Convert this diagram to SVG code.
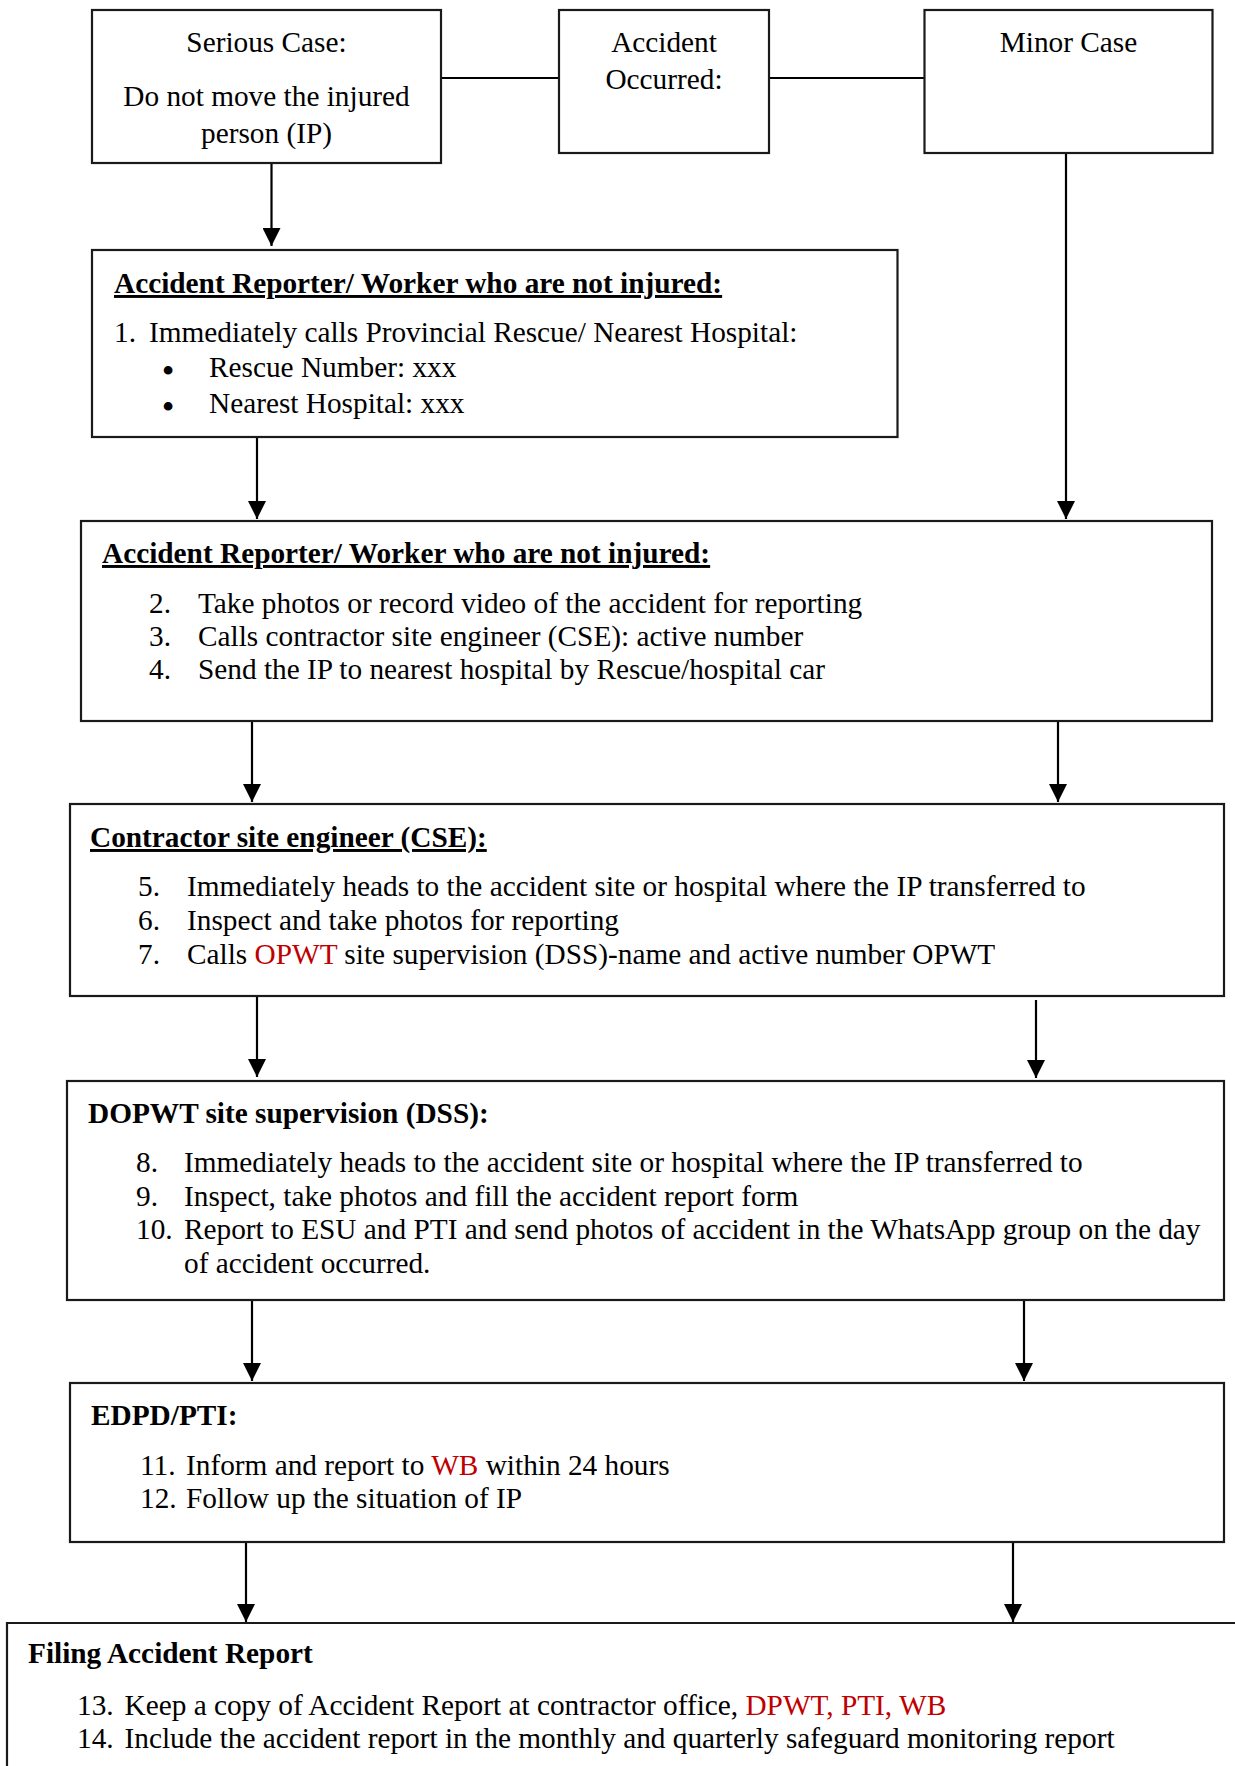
<svg xmlns="http://www.w3.org/2000/svg" width="1235" height="1766" viewBox="0 0 1235 1766">
<defs>
<marker id="ah" markerUnits="userSpaceOnUse" markerWidth="18" markerHeight="18" viewBox="0 0 16 16" refX="16" refY="8" orient="auto">
<path d="M0,0 L16,8 L0,16 Z" fill="#000"/>
</marker>
<style>
.box{fill:#fff;stroke:#1a1a1a;stroke-width:2.2}
.t{font-family:"Liberation Serif","Times New Roman",serif;font-size:29.3px;fill:#000}
.b{font-weight:bold}
.u{text-decoration:underline}
.c{text-anchor:middle}
.r{fill:#C00000}
.bul{font-size:32px;font-weight:bold}
.con{stroke:#000;stroke-width:2.2;fill:none}
.arr{stroke:#000;stroke-width:2.2;fill:none;marker-end:url(#ah)}
</style>
</defs>
<rect width="1235" height="1766" fill="#fff"/>

<g id="connectors">
<line class="con" x1="441" y1="78" x2="559" y2="78"/>
<line class="con" x1="769" y1="78" x2="924" y2="78"/>
<line class="arr" x1="271.5" y1="163" x2="271.5" y2="246"/>
<line class="arr" x1="257" y1="437" x2="257" y2="519"/>
<line class="arr" x1="1066" y1="153" x2="1066" y2="519"/>
<line class="arr" x1="252" y1="721" x2="252" y2="802"/>
<line class="arr" x1="1058" y1="721" x2="1058" y2="802"/>
<line class="arr" x1="257" y1="996" x2="257" y2="1077"/>
<line class="arr" x1="1036" y1="1000" x2="1036" y2="1078"/>
<line class="arr" x1="252" y1="1300" x2="252" y2="1381"/>
<line class="arr" x1="1024" y1="1300" x2="1024" y2="1381"/>
<line class="arr" x1="246" y1="1542" x2="246" y2="1622"/>
<line class="arr" x1="1013" y1="1542" x2="1013" y2="1622"/>
</g>

<g id="serious-case">
<rect class="box" x="92" y="10" width="349" height="153"/>
<text class="t c" x="266.5" y="52">Serious Case:</text>
<text class="t c" x="266.5" y="106">Do not move the injured</text>
<text class="t c" x="266.5" y="143">person (IP)</text>
</g>

<g id="accident-occurred">
<rect class="box" x="559" y="10" width="210" height="143"/>
<text class="t c" x="664" y="52">Accident</text>
<text class="t c" x="664" y="89">Occurred:</text>
</g>

<g id="minor-case">
<rect class="box" x="924.5" y="10" width="288" height="143"/>
<text class="t c" x="1068.5" y="52">Minor Case</text>
</g>

<g id="reporter-1">
<rect class="box" x="92" y="250" width="805.5" height="187"/>
<text class="t b u" x="114" y="293">Accident Reporter/ Worker who are not injured:</text>
<text class="t" x="114" y="342">1.</text>
<text class="t" x="149" y="342">Immediately calls Provincial Rescue/ Nearest Hospital:</text>
<text class="t c bul" x="168" y="380.5">•</text>
<text class="t" x="209" y="377">Rescue Number: xxx</text>
<text class="t c bul" x="168" y="416.5">•</text>
<text class="t" x="209" y="413">Nearest Hospital: xxx</text>
</g>

<g id="reporter-2">
<rect class="box" x="81" y="521" width="1131" height="200"/>
<text class="t b u" x="102" y="563">Accident Reporter/ Worker who are not injured:</text>
<text class="t" x="149" y="613">2.</text>
<text class="t" x="198" y="613">Take photos or record video of the accident for reporting</text>
<text class="t" x="149" y="646">3.</text>
<text class="t" x="198" y="646">Calls contractor site engineer (CSE): active number</text>
<text class="t" x="149" y="679">4.</text>
<text class="t" x="198" y="679">Send the IP to nearest hospital by Rescue/hospital car</text>
</g>

<g id="cse">
<rect class="box" x="70" y="804" width="1154" height="192"/>
<text class="t b u" x="90" y="847">Contractor site engineer (CSE):</text>
<text class="t" x="138" y="896">5.</text>
<text class="t" x="187" y="896">Immediately heads to the accident site or hospital where the IP transferred to</text>
<text class="t" x="138" y="930">6.</text>
<text class="t" x="187" y="930">Inspect and take photos for reporting</text>
<text class="t" x="138" y="964">7.</text>
<text class="t" x="187" y="964">Calls <tspan class="r">OPWT</tspan> site supervision (DSS)-name and active number OPWT</text>
</g>

<g id="dss">
<rect class="box" x="67" y="1081" width="1157" height="219"/>
<text class="t b" x="88" y="1123">DOPWT site supervision (DSS):</text>
<text class="t" x="136" y="1172">8.</text>
<text class="t" x="184" y="1172">Immediately heads to the accident site or hospital where the IP transferred to</text>
<text class="t" x="136" y="1206">9.</text>
<text class="t" x="184" y="1206">Inspect, take photos and fill the accident report form</text>
<text class="t" x="136" y="1239">10.</text>
<text class="t" x="184" y="1239">Report to ESU and PTI and send photos of accident in the WhatsApp group on the day</text>
<text class="t" x="184" y="1273">of accident occurred.</text>
</g>

<g id="edpd-pti">
<rect class="box" x="70" y="1383" width="1154" height="159"/>
<text class="t b" x="91" y="1425">EDPD/PTI:</text>
<text class="t" x="140" y="1475">11.</text>
<text class="t" x="186" y="1475">Inform and report to <tspan class="r">WB</tspan> within 24 hours</text>
<text class="t" x="140" y="1508">12.</text>
<text class="t" x="186" y="1508">Follow up the situation of IP</text>
</g>

<g id="filing">
<path class="box" d="M7,1770 L7,1623 L1240,1623"/>
<text class="t b" x="28" y="1663">Filing Accident Report</text>
<text class="t" x="77" y="1715">13.</text>
<text class="t" x="124.5" y="1715">Keep a copy of Accident Report at contractor office, <tspan class="r">DPWT, PTI, WB</tspan></text>
<text class="t" x="77" y="1748">14.</text>
<text class="t" x="124.5" y="1748">Include the accident report in the monthly and quarterly safeguard monitoring report</text>
</g>
</svg>
